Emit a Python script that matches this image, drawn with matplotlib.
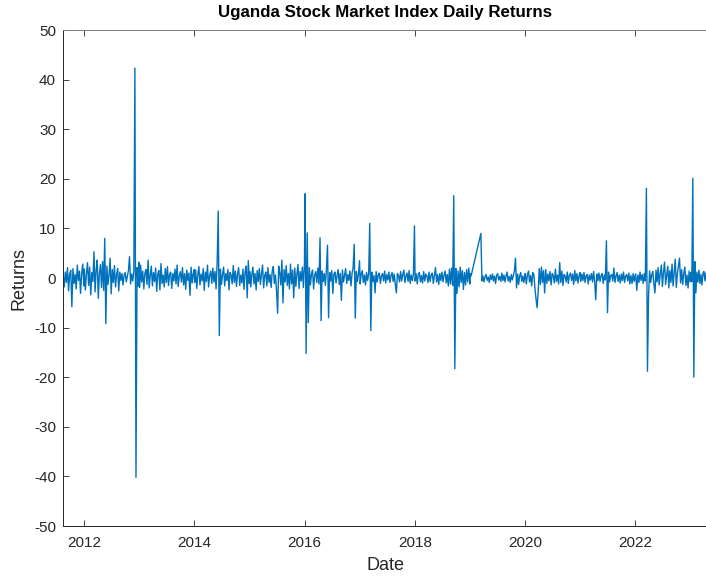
import matplotlib
matplotlib.use("Agg")
import matplotlib.pyplot as plt
import matplotlib.dates as mdates
import pandas as pd
from datetime import datetime


############################
# Data (weekly samples, % returns)
############################

r2011 = [0.6, -1.8, 1.2, -0.9, 2.1, -2.6, 0.8, 1.5, -5.8, 1.9, -1.1, 0.7, -2.2, 2.6,
         -0.5, 1.4, -3.1, 0.9, 2.8, -1.6]
r2012 = [1.8, -2.4, 0.9, 3.1, -1.5, 2.2, -3.4, 1.1, -0.7, 5.3, -2.8, 1.6, 3.6, -4.1,
         0.8, 2.7, -1.9, 3.3, -2.5, 8.0, -9.2, 2.4, -1.3, 0.6, 4.0, -3.2, 1.7, -0.9,
         2.5, -1.8, 0.7, 1.9, -2.6, 1.2, -0.5, 0.9, -1.4, 0.6, 1.1, -0.8, 0.4, 1.5,
         4.3, -1.2, 0.8, -0.6, 1.3, 42.3, -40.2, 2.1, -1.6, 3.2]
r2013 = [-1.9, 2.6, -0.8, 1.4, -2.2, 0.9, 1.7, -1.3, 3.6, -2.0, 0.5, 2.4, -1.6, 1.1,
         -0.7, 2.0, -2.7, 0.8, 1.5, -2.4, 2.9, -1.1, 0.6, -1.8, 1.9, -0.9, 2.3, -1.5,
         0.7, 1.2, -2.1, 0.9, -0.6, 1.8, -1.2, 2.6, -1.7, 0.4, 1.3, -0.8, 2.1, -1.4,
         0.9, -2.3, 1.6, -0.5, 1.0, -3.5, 2.2, -1.0, 0.8, 1.7]
r2014 = [-0.9, 1.6, -2.1, 0.7, 2.3, -1.4, 0.8, -0.6, 1.9, -2.5, 1.2, -0.7, 2.6, -1.8,
         0.5, 1.4, -1.1, 2.0, -0.8, 1.3, -2.2, 3.1, 13.5, -11.6, 1.8, -1.3, 0.7, 2.2,
         -1.6, 0.9, -0.5, 1.7, -2.4, 1.1, 0.6, -1.2, 2.5, -0.9, 1.4, -1.7, 0.8, 2.1,
         -1.5, 0.6, -1.0, 1.8, -2.3, 1.2, 2.4, -4.0, 3.5, -1.1]
r2015 = [1.3, -1.8, 0.6, 2.2, -1.2, 0.9, -2.4, 1.5, -0.7, 1.9, -1.3, 0.8, 2.6, -2.0,
         0.5, 1.2, -1.6, 2.1, -0.9, 0.7, -1.9, 1.4, 2.3, -1.1, 0.6, -2.6, -7.1, 2.4,
         1.1, -1.4, 3.6, -5.0, 1.7, -0.8, 2.5, -1.5, 0.9, -2.2, 2.8, -1.2, 1.6, -4.0,
         2.0, -1.7, 0.8, 2.7, -2.1, 1.3, -0.6, 2.2, -1.9, 3.0]
r2016 = [17.0, -15.2, 9.1, -9.0, 2.1, -1.4, 0.8, 1.6, -2.2, 0.6, 1.3, -0.9, 2.0, -1.2,
         8.1, -8.6, 1.4, -0.7, 0.9, -1.5, 1.8, 6.6, -8.0, 1.1, -0.6, 1.5, -3.1, 0.8,
         1.2, -1.0, 0.5, 1.7, -1.3, 0.9, -4.5, 1.6, -0.8, 0.6, 1.9, -1.1, 0.7, -0.5,
         1.4, -1.6, 0.9, 2.2, 6.8, -8.1, 1.3, -0.7, 0.8, 3.5]
r2017 = [-1.2, 0.8, 1.5, -0.9, 0.6, -1.4, 1.1, -0.5, 0.9, 11.0, -10.6, 1.2, -0.7, 0.5,
         -3.0, 1.3, -0.8, 0.6, 1.0, -1.1, 0.4, 0.9, -0.6, 1.4, -1.0, 0.7, -0.4, 1.2,
         -0.9, 0.5, 1.1, -0.7, 0.8, -1.3, -3.0, 0.9, 0.5, -0.8, 1.3, -0.6, 0.7, 1.6,
         -0.9, 0.4, 1.0, -0.7, 1.5, -1.1, 0.6, -0.5, 0.8, 10.5]
r2018 = [-0.6, 0.9, -1.2, 0.7, 1.1, -0.8, 0.5, -1.0, 1.3, -0.6, 0.8, 0.4, -0.9, 1.2,
         -0.7, 0.6, 1.0, -1.1, 0.5, 2.1, -0.8, 0.7, -1.3, 0.9, -0.5, 1.2, -0.8, 0.6,
         1.4, -1.0, 0.7, -1.6, 1.8, -1.2, 2.0, -1.5, 16.6, -18.3, 1.9, -3.1, 1.4, -1.8,
         2.2, -0.9, 1.5, -2.3, 1.1, -1.4, 1.7, -0.8, 2.0, -1.2]
r2019a = [0.9, 0.4]
r2019b = [9.0, -0.6, 0.4, -0.8, 0.3, 0.7, -0.5, 0.2, -0.9, 0.6, -0.3, 0.8, -0.6, 0.4,
          -1.1, 0.5, 0.9, -0.4, 0.3, -0.7, 1.0, -0.5, 0.6, -0.8, 0.4, 1.2, -0.6, 0.3,
          -0.9, 0.7, -0.4, 0.6, 1.5, 4.0, -2.0, 0.8, -1.3, 0.5, 1.1, -0.7, 0.4, -0.9, 0.8]
r2020 = [0.9, -1.2, 0.6, 1.4, -0.8, 0.5, -1.6, 1.1, 0.7, -2.1, -4.2, -6.0, -2.8, 1.9,
         -1.3, 2.2, -0.9, 1.5, -3.0, 1.7, -1.1, 0.8, -0.6, 1.3, -1.4, 0.9, 0.5, -1.0,
         1.8, -0.7, 0.6, -1.2, 3.1, -0.9, 1.4, -1.5, 0.7, 0.4, -0.8, 1.2, -1.1, 0.6,
         1.0, -0.5, 0.8, -1.3, 1.5, -0.6, 0.9, -1.0, 0.5, 1.1]
r2021 = [-0.7, 0.8, -0.5, 1.1, -0.9, 0.4, 0.7, -1.2, 0.6, -0.4, 0.9, -0.8, 1.3, -0.6,
         -4.4, 0.8, -0.5, 1.0, -0.7, 0.5, 0.9, -1.1, 0.6, -0.4, 7.5, -7.0, 1.2, -0.8,
         0.5, 0.7, -0.6, 2.0, -0.9, 0.4, 1.1, -0.7, 0.6, -1.0, 0.8, -0.5, 1.2, -0.9,
         0.4, 0.7, -0.6, 1.0, -1.2, 0.5, -1.1, 0.9, -0.7, 0.6]
r2022 = [0.8, -2.5, 0.6, -0.9, 1.2, -0.5, 0.7, -1.1, 0.9, -0.6, 18.1, -18.8, -3.8, 1.4,
         -0.9, 0.7, 1.3, -1.2, -3.0, 1.6, -0.8, 2.1, -1.4, 0.9, 2.6, -1.7, 1.1, 3.2,
         -1.3, 0.6, 2.4, -2.0, 1.5, -0.9, 2.8, -1.6, 1.2, 3.8, -1.9, 0.8, 2.5, 4.0,
         -1.0, 1.7, -1.3, 0.9, 2.2, -1.5, 0.6, -2.0, 1.4, -0.8]
r2023 = [1.1, -0.7, 20.1, -20.0, 3.3, -3.0, 1.2, -0.8, 1.6, -1.1, 0.7, -1.4, 0.9, 1.3,
         -0.6, 1.0, -1.2, 0.5]

# (first date, last date, values) for each stretch of trading data
segments = [
    ("2011-08-15", "2011-12-30", r2011),
    ("2012-01-02", "2012-12-31", r2012),
    ("2013-01-02", "2013-12-31", r2013),
    ("2014-01-02", "2014-12-31", r2014),
    ("2015-01-02", "2015-12-31", r2015),
    ("2016-01-04", "2016-12-30", r2016),
    ("2017-01-03", "2017-12-29", r2017),
    ("2018-01-02", "2018-12-31", r2018),
    ("2019-01-02", "2019-01-08", r2019a),
    ("2019-03-14", "2019-12-31", r2019b),
    ("2020-01-02", "2020-12-31", r2020),
    ("2021-01-04", "2021-12-31", r2021),
    ("2022-01-03", "2022-12-30", r2022),
    ("2023-01-03", "2023-04-27", r2023),
]


############################
# Plot
############################

dates = []
returns = []
for start, end, vals in segments:
    dates.extend(pd.date_range(start, end, periods=len(vals)))
    returns.extend(vals)

plt.rcParams["font.family"] = ["Liberation Sans", "DejaVu Sans"]
plt.rcParams["axes.unicode_minus"] = False

fig = plt.figure(figsize=(7.06, 5.76), dpi=100)
ax = fig.add_axes([63 / 706, 50 / 576, 645 / 706, 496 / 576])

ax.plot(dates, returns, color="#0072BD", linewidth=1.0)

ax.set_xlim(datetime(2011, 8, 14), datetime(2023, 4, 27))
ax.set_ylim(-50, 50)
ax.set_yticks(range(-50, 51, 10))
ax.xaxis.set_major_locator(mdates.YearLocator(2))
ax.xaxis.set_major_formatter(mdates.DateFormatter("%Y"))

grey = "#262626"
for side in ax.spines.values():
    side.set_color(grey)
    side.set_linewidth(0.7)
ax.spines["top"].set_color("#808080")
ax.spines["right"].set_visible(False)
ax.tick_params(direction="in", top=True, right=False, length=4, width=0.6,
               colors=grey, labelsize=11, pad=5)
ax.tick_params(axis="x", pad=7)

ax.set_title("Uganda Stock Market Index Daily Returns", fontsize=12.2,
             fontweight="bold", color="black", pad=9)
ax.set_xlabel("Date", fontsize=13, color=grey, labelpad=5)
ax.set_ylabel("Returns", fontsize=13, color=grey, labelpad=5)

fig.savefig("out.png", dpi=100)
